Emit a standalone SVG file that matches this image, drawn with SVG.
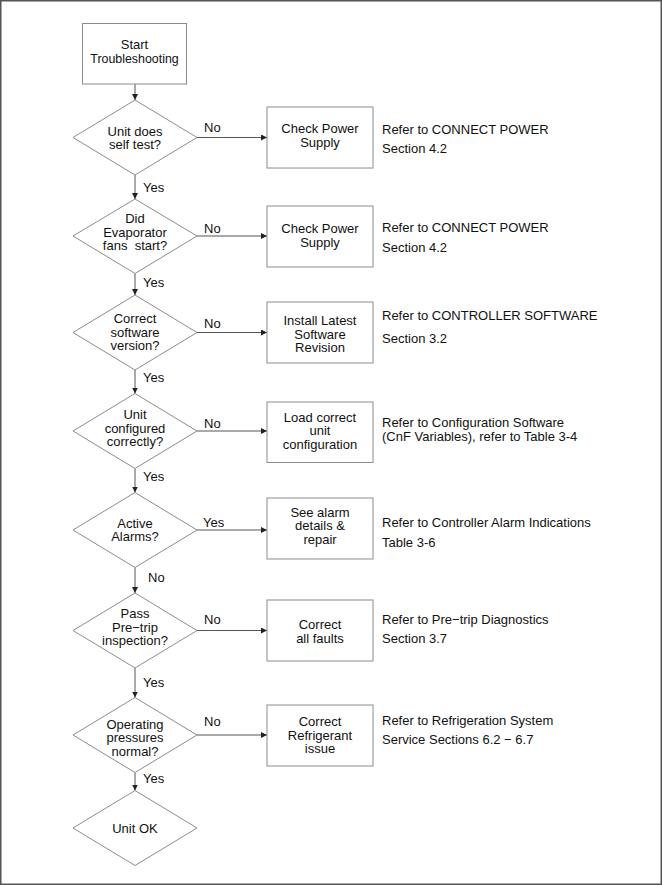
<svg xmlns="http://www.w3.org/2000/svg" width="662" height="885" viewBox="0 0 662 885">
<defs>
<style>
text{font-family:"Liberation Sans",Arial,Helvetica,sans-serif;font-size:13px;fill:#111;}
.c{text-anchor:middle;}
.shape{fill:#fff;stroke:#8c8c8c;stroke-width:1;}
.conn{stroke:#555;stroke-width:1;fill:none;marker-end:url(#ah);}
.pre{white-space:pre;}
</style>
<marker id="ah" viewBox="0 0 6 6" refX="6" refY="3" markerWidth="6" markerHeight="6" markerUnits="userSpaceOnUse" orient="auto">
<path d="M0,0 L6,3 L0,6 z" fill="#222"/>
</marker>
</defs>
<rect x="0.75" y="0.75" width="660.5" height="883.5" fill="#fff" stroke="#555" stroke-width="1.5"/>

<g id="connectors">
<line class="conn" x1="135" y1="84" x2="135" y2="100"/>
<line class="conn" x1="135" y1="175" x2="135" y2="199"/>
<line class="conn" x1="135" y1="273.5" x2="135" y2="295"/>
<line class="conn" x1="135" y1="370" x2="135" y2="393.5"/>
<line class="conn" x1="135" y1="468.5" x2="135" y2="492.5"/>
<line class="conn" x1="135" y1="567.5" x2="135" y2="593"/>
<line class="conn" x1="135" y1="668" x2="135" y2="697.5"/>
<line class="conn" x1="135" y1="772.5" x2="135" y2="790.5"/>
<line class="conn" x1="197" y1="137.5" x2="267" y2="137.5"/>
<line class="conn" x1="197" y1="236" x2="267" y2="236"/>
<line class="conn" x1="197" y1="332.5" x2="267" y2="332.5"/>
<line class="conn" x1="197" y1="431" x2="267" y2="431"/>
<line class="conn" x1="197" y1="530" x2="267" y2="530"/>
<line class="conn" x1="197" y1="630.5" x2="267" y2="630.5"/>
<line class="conn" x1="197" y1="735" x2="267" y2="735"/>
<text x="143" y="192">Yes</text>
<text x="143" y="287">Yes</text>
<text x="143" y="382">Yes</text>
<text x="143" y="481">Yes</text>
<text x="148" y="582">No</text>
<text x="143" y="687">Yes</text>
<text x="143" y="783">Yes</text>
<text x="204" y="132">No</text>
<text x="204" y="233">No</text>
<text x="204" y="328">No</text>
<text x="204" y="428">No</text>
<text x="203" y="527">Yes</text>
<text x="204" y="624">No</text>
<text x="204" y="726">No</text>
</g>

<g id="start">
<rect class="shape" x="82.5" y="23.5" width="104" height="60.5"/>
<text class="c" x="134.5" y="49">Start</text>
<text class="c" x="134.5" y="62.5" style="font-size:12.4px">Troubleshooting</text>
</g>

<g id="d1">
<polygon class="shape" points="135,100 197,137.5 135,175 73,137.5"/>
<text class="c" x="135" y="135.5">Unit does</text>
<text class="c" x="135" y="149">self test?</text>
</g>
<g id="b1">
<rect class="shape" x="267" y="107" width="106" height="61"/>
<text class="c" x="320" y="133">Check Power</text>
<text class="c" x="320" y="146.5">Supply</text>
</g>
<g id="r1">
<text x="382" y="134">Refer to CONNECT POWER</text>
<text x="382" y="153">Section 4.2</text>
</g>

<g id="d2">
<polygon class="shape" points="135,199 197,236 135,273.5 73,236"/>
<text class="c" x="135" y="223">Did</text>
<text class="c" x="135" y="236.5">Evaporator</text>
<text class="c pre" x="135" y="250">fans  start?</text>
</g>
<g id="b2">
<rect class="shape" x="267" y="206" width="106" height="61"/>
<text class="c" x="320" y="233">Check Power</text>
<text class="c" x="320" y="246.5">Supply</text>
</g>
<g id="r2">
<text x="382" y="232">Refer to CONNECT POWER</text>
<text x="382" y="252">Section 4.2</text>
</g>

<g id="d3">
<polygon class="shape" points="135,295 197,332.5 135,370 73,332.5"/>
<text class="c" x="135" y="323">Correct</text>
<text class="c" x="135" y="336.5">software</text>
<text class="c" x="135" y="350">version?</text>
</g>
<g id="b3">
<rect class="shape" x="267" y="302" width="106" height="61"/>
<text class="c" x="320" y="325">Install Latest</text>
<text class="c" x="320" y="338.5">Software</text>
<text class="c" x="320" y="352">Revision</text>
</g>
<g id="r3">
<text x="382" y="320">Refer to CONTROLLER SOFTWARE</text>
<text x="382" y="343">Section 3.2</text>
</g>

<g id="d4">
<polygon class="shape" points="135,393.5 197,431 135,468.5 73,431"/>
<text class="c" x="135" y="419">Unit</text>
<text class="c" x="135" y="432.5">configured</text>
<text class="c" x="135" y="446">correctly?</text>
</g>
<g id="b4">
<rect class="shape" x="267" y="402" width="106" height="60.5"/>
<text class="c" x="320" y="421.5">Load correct</text>
<text class="c" x="320" y="435">unit</text>
<text class="c" x="320" y="448.5">configuration</text>
</g>
<g id="r4">
<text x="382" y="427">Refer to Configuration Software</text>
<text x="382" y="440.5">(CnF Variables), refer to Table 3-4</text>
</g>

<g id="d5">
<polygon class="shape" points="135,492.5 197,530 135,567.5 73,530"/>
<text class="c" x="135" y="527.5">Active</text>
<text class="c" x="135" y="541">Alarms?</text>
</g>
<g id="b5">
<rect class="shape" x="267" y="498" width="106" height="61"/>
<text class="c" x="320" y="516.5">See alarm</text>
<text class="c" x="320" y="530">details &amp;</text>
<text class="c" x="320" y="543.5">repair</text>
</g>
<g id="r5">
<text x="382" y="526.5">Refer to Controller Alarm Indications</text>
<text x="382" y="547">Table 3-6</text>
</g>

<g id="d6">
<polygon class="shape" points="135,593 197,630.5 135,668 73,630.5"/>
<text class="c" x="135" y="618">Pass</text>
<text class="c" x="135" y="631.5">Pre−trip</text>
<text class="c" x="135" y="645">inspection?</text>
</g>
<g id="b6">
<rect class="shape" x="267" y="600" width="106" height="61"/>
<text class="c" x="320" y="629">Correct</text>
<text class="c" x="320" y="642.5">all faults</text>
</g>
<g id="r6">
<text x="382" y="624">Refer to Pre−trip Diagnostics</text>
<text x="382" y="643">Section 3.7</text>
</g>

<g id="d7">
<polygon class="shape" points="135,697.5 197,735 135,772.5 73,735"/>
<text class="c" x="135" y="728.5">Operating</text>
<text class="c" x="135" y="742">pressures</text>
<text class="c" x="135" y="755.5">normal?</text>
</g>
<g id="b7">
<rect class="shape" x="267" y="705" width="106" height="61"/>
<text class="c" x="320" y="726">Correct</text>
<text class="c" x="320" y="739.5">Refrigerant</text>
<text class="c" x="320" y="753">issue</text>
</g>
<g id="r7">
<text x="382" y="725">Refer to Refrigeration System</text>
<text x="382" y="744">Service Sections 6.2 − 6.7</text>
</g>

<g id="d8">
<polygon class="shape" points="135,790.5 197,828 135,865.5 73,828"/>
<text class="c" x="135" y="832.5">Unit OK</text>
</g>
</svg>
